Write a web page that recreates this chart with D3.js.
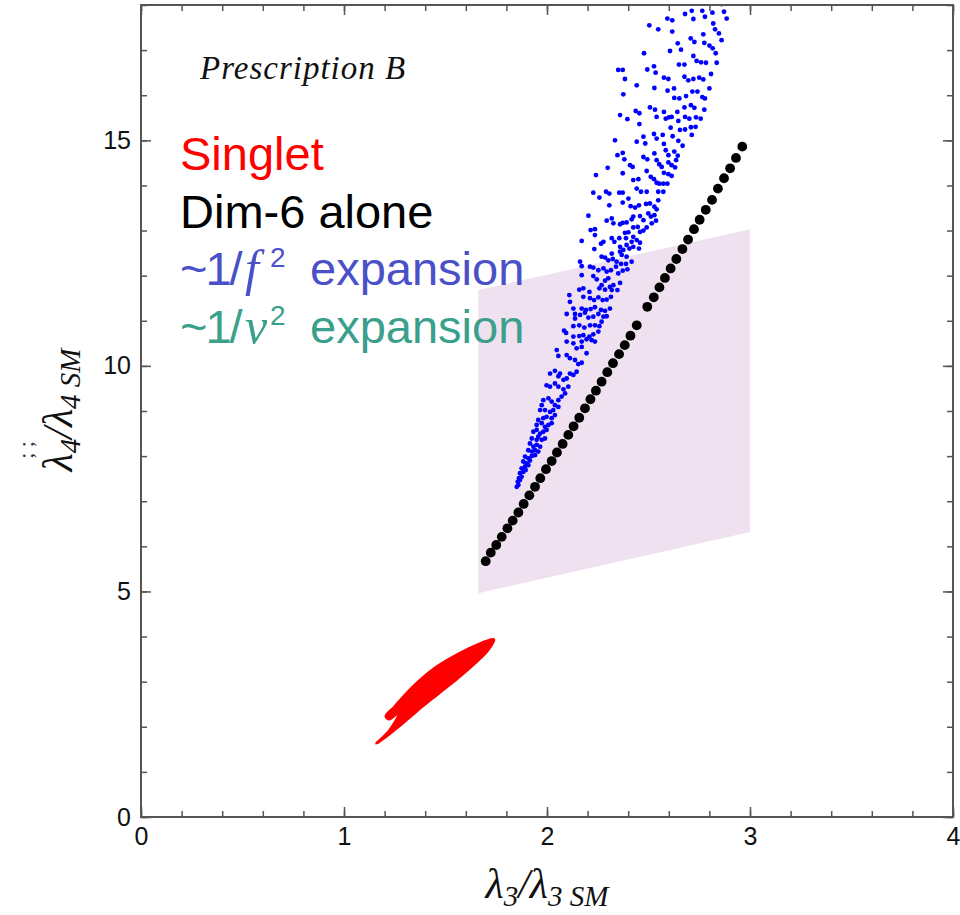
<!DOCTYPE html>
<html>
<head>
<meta charset="utf-8">
<script src="https://cdn.jsdelivr.net/npm/d3@7"></script>
<style>
  body { margin: 0; background: #fff; }
</style>
</head>
<body>
<script>
// lambda_4 vs lambda_3 scan, "Prescription B"

// axis ticks
const xMajor = [0, 1, 2, 3, 4];
const yMajor = [0, 5, 10, 15];
const xMinor = d3.range(0, 4.001, 0.2);
const yMinor = d3.range(0, 18.001, 1);

// shaded band (corners, going round)
const bandX = [1.662, 3.0, 3.0, 1.662];
const bandY = [11.68, 13.03, 6.32, 4.96];

// Dim-6 alone (black dots)
const dim6X = [1.698, 1.723, 1.750, 1.777, 1.805, 1.831, 1.859, 1.885, 1.913, 1.941,
  1.967, 1.995, 2.023, 2.049, 2.077, 2.105, 2.131, 2.159, 2.187, 2.214,
  2.241, 2.269, 2.297, 2.325, 2.355, 2.383, 2.411, 2.442, 2.494, 2.526,
  2.554, 2.581, 2.609, 2.637, 2.667, 2.695, 2.724, 2.752, 2.782, 2.813,
  2.842, 2.872, 2.902, 2.931, 2.962];
const dim6Y = [5.67, 5.86, 6.03, 6.21, 6.40, 6.57, 6.75, 6.94, 7.13, 7.32,
  7.51, 7.71, 7.89, 8.08, 8.27, 8.47, 8.66, 8.85, 9.06, 9.26,
  9.45, 9.65, 9.86, 10.06, 10.26, 10.46, 10.67, 10.90, 11.31, 11.52,
  11.74, 11.95, 12.16, 12.37, 12.59, 12.80, 13.03, 13.24, 13.46, 13.68,
  13.93, 14.16, 14.38, 14.61, 14.86];

// ~1/f^2 expansion (blue dots), [lambda3, lambda4]
const f2Points = [
  [2.680,17.80],[2.713,17.87],[2.765,17.87],[2.815,17.83],[2.872,17.85],[2.860,18.02],[2.593,17.70],[2.617,17.66],
  [2.721,17.69],[2.778,17.74],[2.819,17.59],[2.885,17.70],[2.548,17.46],[2.617,17.41],[2.828,17.46],[2.847,17.37],
  [2.770,17.35],[2.708,17.26],[2.726,17.18],[2.775,17.16],[2.800,17.10],[2.816,17.04],[2.860,17.22],[2.644,17.15],
  [2.660,17.01],[2.606,16.98],[2.831,16.93],[2.721,16.87],[2.737,16.76],[2.759,16.73],[2.783,16.72],[2.836,16.72],
  [2.650,16.68],[2.677,16.68],[2.527,16.64],[2.535,16.50],[2.808,16.47],[2.576,16.39],[2.598,16.36],[2.677,16.41],
  [2.696,16.33],[2.721,16.36],[2.750,16.39],[2.770,16.35],[2.529,16.16],[2.594,16.10],[2.626,16.15],[2.800,16.15],
  [2.716,16.08],[2.741,16.08],[2.765,15.96],[2.778,15.93],[2.627,15.94],[2.652,15.93],[2.685,15.98],[2.709,15.78],
  [2.726,15.72],[2.677,15.73],[2.775,15.68],[2.532,15.68],[2.507,15.73],[2.576,15.63],[2.642,15.63],[2.601,15.51],
  [2.540,15.52],[2.585,15.48],[2.614,15.52],[2.680,15.52],[2.701,15.48],[2.734,15.51],[2.757,15.48],[2.647,15.43],
  [2.609,15.28],[2.709,15.29],[2.732,15.30],[2.655,15.23],[2.680,15.24],[2.527,15.14],[2.540,15.04],[2.570,15.12],
  [2.619,15.09],[2.713,15.12],[2.647,14.99],[2.668,14.88],[2.576,14.92],[2.585,14.78],[2.627,14.75],[2.529,14.71],
  [2.644,14.66],[2.598,14.67],[2.636,14.56],[2.540,14.56],[2.553,14.47],[2.565,14.41],[2.598,14.51],[2.614,14.45],
  [2.631,14.40],[2.576,14.28],[2.598,14.25],[2.614,14.21],[2.511,14.19],[2.527,14.14],[2.540,14.06],[2.553,14.04],
  [2.573,14.04],[2.593,14.04],[2.548,13.86],[2.573,13.86],
  [2.504,17.55],[2.478,16.93],[2.351,16.56],[2.373,16.56],[2.494,16.57],[2.384,16.36],[2.442,16.22],[2.376,16.02],
  [2.437,15.65],[2.455,15.60],[2.360,15.56],[2.396,15.47],[2.455,15.36],[2.335,15.00],[2.475,15.08],[2.442,14.97],
  [2.484,14.93],[2.347,14.67],[2.373,14.72],[2.381,14.58],[2.475,14.63],[2.494,14.58],[2.299,14.39],[2.409,14.45],
  [2.422,14.41],[2.241,14.23],[2.373,14.27],[2.491,14.32],[2.425,14.12],[2.450,14.14],[2.442,13.93],[2.463,13.86],
  [2.491,13.86],[2.228,13.84],[2.291,13.86],[2.307,13.82],[2.356,13.84],[2.373,13.84],
  [2.258,13.73],[2.401,13.71],[2.307,13.56],[2.373,13.62],[2.412,13.54],[2.434,13.51],[2.453,13.56],[2.488,13.59],
  [2.507,13.60],[2.548,13.67],[2.529,13.53],[2.540,13.47],[2.204,13.33],[2.294,13.22],[2.319,13.27],[2.327,13.16],
  [2.360,13.14],[2.373,13.17],[2.392,13.18],[2.417,13.25],[2.425,13.31],[2.458,13.32],[2.475,13.23],[2.499,13.38],
  [2.512,13.31],[2.529,13.34],[2.537,13.22],[2.516,13.16],[2.215,13.01],[2.236,13.03],[2.236,12.90],[2.266,12.71],
  [2.278,12.75],[2.319,12.83],[2.332,12.75],[2.356,12.83],[2.384,12.95],[2.401,12.96],[2.425,13.07],[2.447,13.08],
  [2.458,12.97],[2.475,13.00],[2.491,13.07],[2.171,12.77],[2.360,12.64],[2.392,12.68],[2.417,12.75],[2.442,12.79],
  [2.458,12.73],[2.389,12.83],[2.425,12.86],[2.233,12.59],[2.269,12.42],[2.286,12.40],[2.319,12.49],[2.302,12.34],
  [2.324,12.37],[2.360,12.53],[2.376,12.57],[2.406,12.60],[2.425,12.64],[2.453,12.60],[2.368,12.46],[2.392,12.42],
  [2.417,12.31],[2.343,12.31],[2.365,12.26],[2.389,12.26],[2.163,12.31],[2.171,12.21],[2.212,12.20],[2.228,12.18],
  [2.253,12.12],[2.278,12.16],[2.294,12.09],[2.315,12.12],[2.340,12.20],[2.351,12.05],[2.373,12.11],[2.396,12.14],
  [2.171,12.01],[2.228,11.99],[2.245,11.92],[2.269,11.79],[2.286,11.89],[2.302,11.94],[2.310,11.75],[2.327,11.79],
  [2.360,11.84],[2.159,11.69],[2.179,11.72],[2.209,11.64],[2.258,11.72],[2.286,11.69],[2.319,11.68],[2.347,11.68],
  [2.110,11.57],[2.113,11.42],[2.179,11.53],[2.212,11.50],[2.232,11.46],[2.253,11.52],[2.274,11.46],[2.294,11.47],
  [2.315,11.53],[2.130,11.27],[2.097,11.15],[2.138,11.15],[2.171,11.27],[2.192,11.24],[2.215,11.26],[2.236,11.30],
  [2.266,11.24],[2.286,11.22],[2.310,11.27],[2.138,11.05],[2.163,11.13],[2.187,11.18],[2.204,11.07],[2.228,11.09],
  [2.253,11.15],[2.278,11.09],[2.294,11.10],[2.130,10.88],[2.159,10.90],[2.184,10.85],[2.212,10.90],[2.236,10.90],
  [2.258,10.88],[2.269,10.98],[2.084,10.78],[2.094,10.73],[2.130,10.65],[2.159,10.66],[2.179,10.68],[2.209,10.65],
  [2.228,10.70],[2.253,10.76],[2.097,10.54],[2.130,10.50],[2.171,10.54],[2.195,10.59],[2.220,10.57],[2.236,10.54],
  [2.146,10.39],[2.171,10.42],[2.048,10.35],[2.056,10.22],[2.097,10.24],[2.113,10.17],[2.138,10.13],[2.154,10.04],
  [2.171,10.07],[2.195,10.28],[2.015,9.83],[2.039,9.89],[2.056,9.77],[2.064,9.83],[2.081,9.69],[2.097,9.72],
  [2.113,9.83],[2.130,9.80],[2.146,9.87],[1.998,9.57],[2.015,9.54],[2.039,9.61],[2.056,9.54],[2.081,9.48],
  [2.089,9.39],[2.105,9.54],[1.982,9.24],[2.007,9.28],[2.023,9.21],[2.039,9.13],[2.056,9.24],[2.072,9.32],
  [1.974,9.13],[1.966,9.02],[1.990,9.02],[2.015,8.98],[2.031,9.02],[2.056,9.09],[1.982,8.84],[1.998,8.87],
  [2.023,8.84],[2.039,8.91],[1.957,8.80],[1.949,8.69],[1.974,8.73],[1.990,8.65],[2.007,8.69],[2.023,8.73],
  [1.933,8.54],[1.949,8.58],[1.966,8.50],[1.982,8.54],[1.998,8.58],[1.925,8.39],[1.949,8.36],[1.957,8.43],
  [1.974,8.36],[1.990,8.39],[1.916,8.28],[1.933,8.21],[1.949,8.25],[1.966,8.21],[1.908,8.13],[1.925,8.10],
  [1.941,8.13],[1.957,8.10],[1.892,7.99],[1.908,7.95],[1.925,8.00],[1.941,8.02],[1.883,7.88],[1.900,7.84],
  [1.916,7.90],[1.875,7.73],[1.892,7.77],[1.908,7.80],[1.867,7.62],[1.883,7.65],[1.895,7.69],[1.862,7.51],
  [1.875,7.54],[1.856,7.43],[1.867,7.47],[1.851,7.32],[1.859,7.36]
];

// Singlet region outline (red)
const singletX = [1.161, 1.259, 1.358, 1.460, 1.560, 1.642, 1.707, 1.738, 1.703, 1.619,
  1.519, 1.436, 1.362, 1.298, 1.249, 1.207, 1.223, 1.279, 1.227, 1.168];
const singletY = [1.63, 1.97, 2.35, 2.72, 3.08, 3.40, 3.69, 3.93, 3.90, 3.74,
  3.50, 3.26, 2.98, 2.69, 2.44, 2.23, 2.17, 2.36, 1.93, 1.66];

// legend entries
const legendItems = [
  { pre: 'Singlet', color: '#ff0000' },
  { pre: 'Dim-6 alone', color: '#000000' },
  { pre: '~1/', sym: 'f', post: 'expansion', color: '#4a50c8' },
  { pre: '~1/', sym: 'v', post: 'expansion', color: '#3a9f8b' }
];

const width = 960, height = 915;
const frame = { left: 141, right: 953, top: 5, bottom: 817 };

const svg = d3.select('body').append('svg')
  .attr('width', width)
  .attr('height', height);

const x = d3.scaleLinear().domain([0, 4]).range([frame.left, frame.right]);
const y = d3.scaleLinear().domain([0, 18]).range([frame.bottom, frame.top]);

svg.append('defs').append('clipPath')
  .attr('id', 'plot-clip')
  .append('rect')
  .attr('x', frame.left)
  .attr('y', frame.top)
  .attr('width', frame.right - frame.left)
  .attr('height', frame.bottom - frame.top);

const plot = svg.append('g').attr('clip-path', 'url(#plot-clip)');

// band
plot.append('path')
  .datum(bandX.map((d, i) => [d, bandY[i]]))
  .attr('d', d3.line().x(d => x(d[0])).y(d => y(d[1])))
  .attr('fill', '#efe1ef')
  .attr('stroke', 'none');

// legend text
const legend = svg.append('g')
  .attr('font-family', 'Liberation Sans, Arial, sans-serif')
  .attr('font-size', 47);

legendItems.forEach((d, i) => {
  const t = legend.append('text')
    .attr('x', 180)
    .attr('y', 170 + i * 57.5)
    .attr('fill', d.color);
  const pre = t.append('tspan').text(d.pre);
  if (d.sym) {
    pre.attr('letter-spacing', -2);
    t.append('tspan')
      .attr('font-family', 'Liberation Serif, Times New Roman, serif')
      .attr('font-style', 'italic')
      .attr('font-size', 50)
      .attr('x', 245)
      .text(d.sym);
    t.append('tspan')
      .attr('font-size', 28)
      .attr('x', 270)
      .attr('dy', -18)
      .text('2');
    t.append('tspan')
      .attr('x', 310)
      .attr('dy', 18)
      .text(d.post);
  }
});

// blue points
plot.append('g')
  .selectAll('circle')
  .data(f2Points)
  .join('circle')
  .attr('cx', d => x(d[0]))
  .attr('cy', d => y(d[1]))
  .attr('r', 2.4)
  .attr('fill', '#0000ff');

// black points
plot.append('g')
  .selectAll('circle')
  .data(dim6X.map((d, i) => [d, dim6Y[i]]))
  .join('circle')
  .attr('cx', d => x(d[0]))
  .attr('cy', d => y(d[1]))
  .attr('r', 4.9)
  .attr('fill', '#000');

// singlet region
plot.append('path')
  .datum(singletX.map((d, i) => [d, singletY[i]]))
  .attr('d', d3.line().x(d => x(d[0])).y(d => y(d[1])).curve(d3.curveCatmullRomClosed.alpha(0.5)))
  .attr('fill', '#ff0000')
  .attr('stroke', '#ff0000')
  .attr('stroke-width', 3)
  .attr('stroke-linejoin', 'round');

// axes with inward ticks on all four sides
const axisColor = '#555';
function styleAxis(g) {
  g.select('.domain').remove();
  g.selectAll('.tick line').attr('stroke', axisColor).attr('stroke-width', 1.5);
  g.selectAll('.tick text')
    .attr('font-family', 'Liberation Sans, Arial, sans-serif')
    .attr('font-size', 25)
    .attr('fill', '#111');
}

function makeAxis(kind, scale) {
  if (kind === 'bottom') return d3.axisBottom(scale);
  if (kind === 'top') return d3.axisTop(scale);
  if (kind === 'left') return d3.axisLeft(scale);
  return d3.axisRight(scale);
}

[['bottom', x, frame.bottom, xMajor, xMinor, true],
 ['top', x, frame.top, xMajor, xMinor, false],
 ['left', y, frame.left, yMajor, yMinor, true],
 ['right', y, frame.right, yMajor, yMinor, false]].forEach(([kind, scale, pos, major, minor, labels]) => {
  const tr = (kind === 'bottom' || kind === 'top') ? `translate(0,${pos})` : `translate(${pos},0)`;
  svg.append('g')
    .attr('transform', tr)
    .call(makeAxis(kind, scale).tickValues(minor).tickSize(-6).tickFormat(''))
    .call(styleAxis);
  svg.append('g')
    .attr('transform', tr)
    .call(makeAxis(kind, scale).tickValues(major).tickSize(-10).tickPadding(labels ? 10 : 0)
      .tickFormat(labels ? d3.format('d') : ''))
    .call(styleAxis);
});

// frame
svg.append('rect')
  .attr('x', frame.left)
  .attr('y', frame.top)
  .attr('width', frame.right - frame.left)
  .attr('height', frame.bottom - frame.top)
  .attr('fill', 'none')
  .attr('stroke', axisColor)
  .attr('stroke-width', 2);

// panel title
svg.append('text')
  .attr('x', 200)
  .attr('y', 79)
  .attr('font-family', 'Liberation Serif, Times New Roman, serif')
  .attr('font-style', 'italic')
  .attr('font-size', 33)
  .attr('letter-spacing', 1)
  .attr('fill', '#111')
  .text('Prescription B');

// axis titles
function lambdaLabel(sel, sub) {
  sel.attr('font-family', 'Liberation Serif, Times New Roman, serif')
    .attr('font-style', 'italic')
    .attr('font-size', 42)
    .attr('fill', '#111')
    .attr('text-anchor', 'middle');
  sel.append('tspan').text('λ');
  sel.append('tspan').attr('font-size', 29).attr('dy', 8).text(sub);
  sel.append('tspan').attr('dy', -8).text('/λ');
  sel.append('tspan').attr('font-size', 29).attr('dy', 8).text(sub + ' SM');
}

svg.append('text')
  .attr('x', 547)
  .attr('y', 898)
  .call(lambdaLabel, '3');

svg.append('text')
  .attr('transform', 'translate(72,410) rotate(-90)')
  .call(lambdaLabel, '4');

// stray marks beside the y title
svg.append('text')
  .attr('transform', 'translate(33,450) rotate(-90)')
  .attr('font-family', 'Liberation Serif, serif')
  .attr('font-size', 22)
  .attr('fill', '#333')
  .attr('text-anchor', 'middle')
  .text(';    ;');
</script>
</body>
</html>
